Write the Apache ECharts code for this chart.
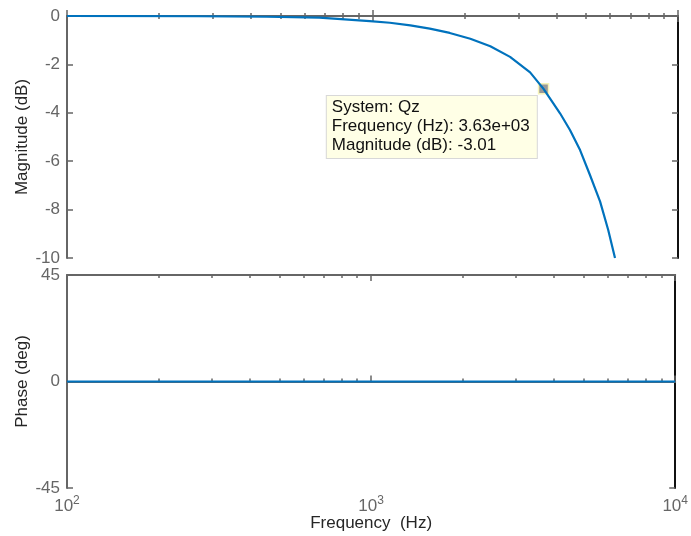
<!DOCTYPE html>
<html>
<head>
<meta charset="utf-8">
<script src="https://cdn.jsdelivr.net/npm/echarts@6/dist/echarts.min.js"></script>
<style>
  html, body { margin: 0; padding: 0; background: #fff; }
  #chart { width: 691px; height: 536px; }
</style>
</head>
<body>
<div id="chart"></div>
<script>
// Bode plot of Qz, magnitude + phase
const freqHz = [100, 270, 450, 670, 980, 1140, 1330, 1540, 1790, 2090, 2430, 2820, 3280, 3630, 4110, 4430, 4780, 5150, 5560, 5910, 6220];
const magDb = [0, -0.01, -0.03, -0.07, -0.21, -0.28, -0.39, -0.52, -0.70, -0.94, -1.25, -1.69, -2.33, -3.01, -4.02, -4.71, -5.54, -6.57, -7.67, -8.84, -10];
const phaseFreq = [100, 10000];
const phaseDeg = [0, 0];
const majorTicks = [100, 1000, 10000];
const minorTicks = [200, 300, 400, 500, 600, 700, 800, 900, 2000, 3000, 4000, 5000, 6000, 7000, 8000, 9000];
const tipPoint = [3630, -3.01];
const tipLines = ["System: Qz", "Frequency (Hz): 3.63e+03", "Magnitude (dB): -3.01"];

const AX = "#666", BLUE = "#0072bd", FONT = "Liberation Sans", FS = 17;

function xAx(grid, pos, ticks, len, extra) {
  return Object.assign({
    type: "log", logBase: 10, min: 100, max: 10000, gridIndex: grid, position: pos,
    axisLine: { show: false },
    axisTick: { show: true, inside: true, length: len, customValues: ticks, lineStyle: { color: AX, width: 1.5 } },
    axisLabel: { show: false },
    splitLine: { show: false },
  }, extra || {});
}
const frame = { show: true, lineStyle: { color: AX, width: 2 } };
const nameStyle = { color: "#262626", fontFamily: FONT, fontSize: FS };

const chart = echarts.init(document.getElementById("chart"), null, { renderer: "canvas" });
chart.setOption({
  animation: false,
  grid: [
    { left: 67, top: 16, width: 611, height: 242 },
    { left: 67, top: 275, width: 611, height: 213 },
  ],
  xAxis: [
    xAx(0, "bottom", majorTicks, 6, { axisLine: frame }),
    xAx(0, "bottom", minorTicks, 3),
    xAx(0, "top", majorTicks, 6, { axisLine: frame }),
    xAx(0, "top", minorTicks, 3),
    xAx(1, "bottom", majorTicks, 6, {
      axisLine: frame,
      axisLabel: {
        show: true, customValues: majorTicks, margin: 7, color: AX, fontFamily: FONT, fontSize: FS,
        formatter: (v) => "10{s|" + Math.round(Math.log10(v)) + "}",
        rich: { s: { fontSize: 12, fontFamily: FONT, color: AX, verticalAlign: "top", padding: [0, 0, 10, 0] } },
      },
      name: "Frequency  (Hz)", nameLocation: "middle", nameGap: 27, nameMoveOverlap: false, nameTextStyle: nameStyle,
    }),
    xAx(1, "bottom", minorTicks, 3),
    xAx(1, "top", majorTicks, 6, { axisLine: frame }),
    xAx(1, "top", minorTicks, 3),
  ],
  yAxis: [
    {
      type: "value", gridIndex: 0, position: "left", min: -10, max: 0, interval: 2,
      axisLine: frame,
      axisTick: { inside: true, length: 6, lineStyle: { color: AX, width: 1.5 } },
      axisLabel: { color: AX, fontFamily: FONT, fontSize: FS, margin: 7 },
      splitLine: { show: false },
      name: "Magnitude (dB)", nameLocation: "middle", nameGap: 36, nameMoveOverlap: false, nameTextStyle: nameStyle,
    },
    {
      type: "value", gridIndex: 0, position: "right", min: -10, max: 0, interval: 2,
      axisLine: { show: true, lineStyle: { color: "#111", width: 2 } },
      axisTick: { inside: true, length: 6, lineStyle: { color: AX, width: 1.5 } },
      axisLabel: { show: false }, splitLine: { show: false },
    },
    {
      type: "value", gridIndex: 1, position: "left", min: -45, max: 45, interval: 45,
      axisLine: frame,
      axisTick: { inside: true, length: 6, lineStyle: { color: AX, width: 1.5 } },
      axisLabel: { color: AX, fontFamily: FONT, fontSize: FS, margin: 7 },
      splitLine: { show: false },
      name: "Phase (deg)", nameLocation: "middle", nameGap: 36, nameMoveOverlap: false, nameTextStyle: nameStyle,
    },
    {
      type: "value", gridIndex: 1, position: "right", min: -45, max: 45, interval: 45,
      axisLine: { show: true, lineStyle: { color: "#111", width: 2 } },
      axisTick: { inside: true, length: 6, lineStyle: { color: AX, width: 1.5 } },
      axisLabel: { show: false }, splitLine: { show: false },
    },
  ],
  series: [
    {
      type: "line", xAxisIndex: 0, yAxisIndex: 0, smooth: false, symbol: "none", clip: true,
      data: freqHz.map((f, i) => [f, magDb[i]]),
      lineStyle: { color: BLUE, width: 2.2, join: "round" },
      markPoint: {
        symbol: "rect", symbolSize: 10,
        itemStyle: { color: "#999", borderColor: "#f6f3b8", borderWidth: 1.5 },
        data: [{ coord: tipPoint }],
        label: {
          show: true, position: [-211, 13], align: "left", verticalAlign: "top",
          formatter: tipLines.join("\n"),
          color: "#111", fontFamily: FONT, fontSize: FS, lineHeight: 19,
          backgroundColor: "#ffffe6", borderColor: "#d8d8d8", borderWidth: 1,
          padding: [2, 5, 3, 5], width: 200,
        },
      },
      z: 5,
    },
    {
      type: "line", xAxisIndex: 4, yAxisIndex: 2, symbol: "none",
      data: phaseFreq.map((f, i) => [f, phaseDeg[i]]),
      lineStyle: { color: BLUE, width: 2.2 },
      z: 5,
    },
  ],
});
</script>
</body>
</html>
